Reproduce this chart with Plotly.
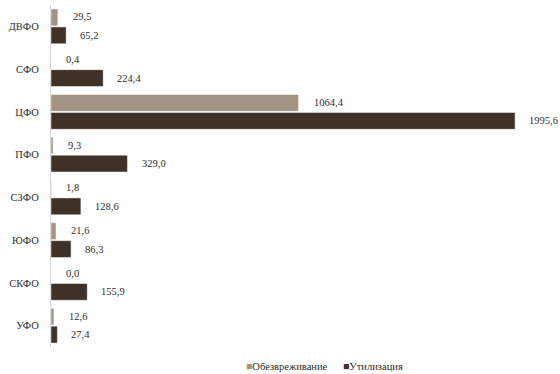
import plotly.graph_objects as go

categories = ["ДВФО", "СФО", "ЦФО", "ПФО", "СЗФО", "ЮФО", "СКФО", "УФО"]
neutralization = [29.5, 0.4, 1064.4, 9.3, 1.8, 21.6, 0.0, 12.6]
utilization = [65.2, 224.4, 1995.6, 329.0, 128.6, 86.3, 155.9, 27.4]
series_names = ["Обезвреживание", "Утилизация"]

c_light = "#a39484"
c_dark = "#3e3128"
font_family = "Liberation Serif, Times New Roman, serif"
txt_color = "#2e2e2e"
fs = 10.5

fig = go.Figure()
fig.add_trace(go.Bar(y=categories, x=neutralization, orientation="h", name=series_names[0],
                     marker=dict(color=c_light, line=dict(color="white", width=0.5)), showlegend=False))
fig.add_trace(go.Bar(y=categories, x=utilization, orientation="h", name=series_names[1],
                     marker=dict(color=c_dark, line=dict(color="white", width=0.5)), showlegend=False))

def fmt(v):
    return f"{v:.1f}".replace(".", ",")

annotations = []
for cat, a, b in zip(categories, neutralization, utilization):
    annotations.append(dict(x=a, y=cat, text=fmt(a), xanchor="left", yanchor="middle",
                            xshift=13, yshift=9.5, showarrow=False,
                            font=dict(family=font_family, size=fs, color=txt_color)))
    annotations.append(dict(x=b, y=cat, text=fmt(b), xanchor="left", yanchor="middle",
                            xshift=12, yshift=-9, showarrow=False,
                            font=dict(family=font_family, size=fs, color=txt_color)))

# legend as text
annotations.append(dict(xref="paper", yref="paper", x=(244 - 51) / 480, y=-20 / 342,
                        xanchor="left", yanchor="middle", showarrow=False,
                        text=f"<span style='color:{c_light}'>■</span>{series_names[0]}",
                        font=dict(family=font_family, size=fs, color=txt_color)))
annotations.append(dict(xref="paper", yref="paper", x=(341 - 51) / 480, y=-20 / 342,
                        xanchor="left", yanchor="middle", showarrow=False,
                        text=f"<span style='color:{c_dark}'>■</span>{series_names[1]}",
                        font=dict(family=font_family, size=fs, color=txt_color)))

fig.update_layout(
    width=560, height=374,
    margin=dict(l=51, r=29, t=5, b=27),
    paper_bgcolor="white", plot_bgcolor="white",
    barmode="group", bargap=0.16, bargroupgap=0.06,
    font=dict(family=font_family, size=fs, color=txt_color),
    annotations=annotations,
    hovermode=False,
    xaxis=dict(range=[0, 2064], visible=False, showgrid=False, zeroline=False),
    yaxis=dict(autorange="reversed", showline=True, linecolor="#d9d9d9", linewidth=1,
               showgrid=False, zeroline=False, ticks="", ticklabelstandoff=9,
               tickfont=dict(family=font_family, size=fs, color=txt_color)),
)

fig.write_html("out.html", config={"displayModeBar": False},
               post_script="document.body.style.margin='0';document.body.style.overflow='hidden';")
